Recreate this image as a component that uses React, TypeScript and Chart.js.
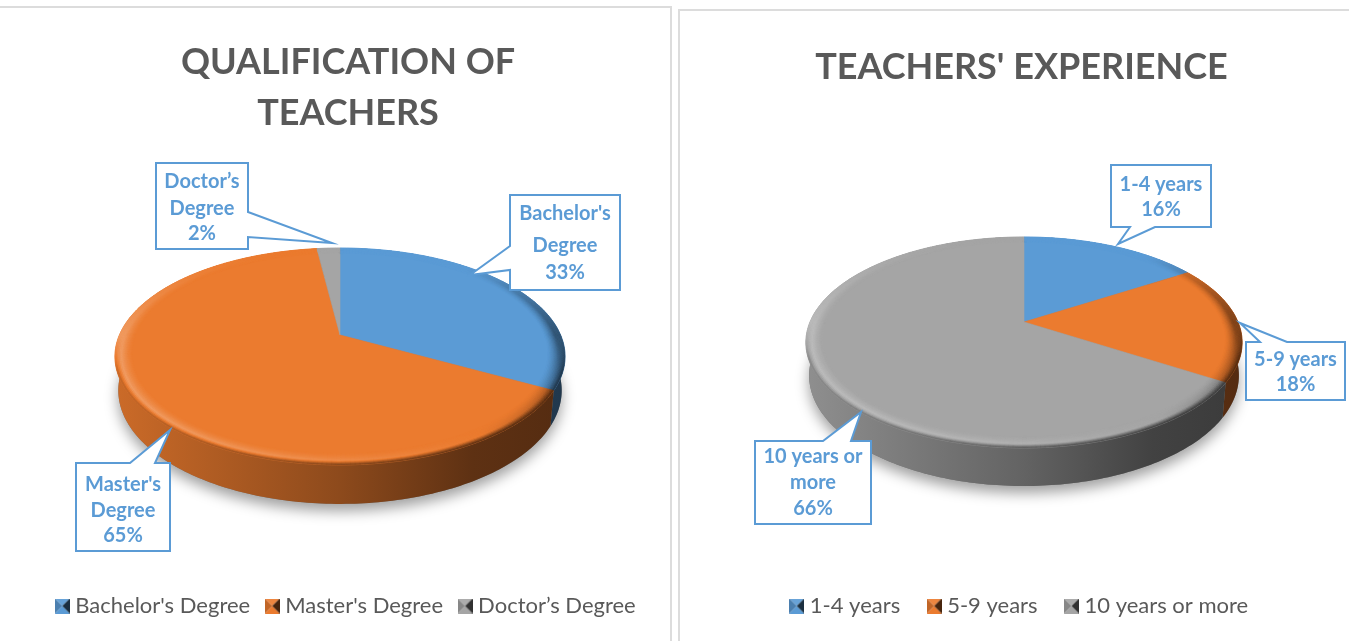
import React, { useEffect, useRef } from "react";
import { Chart, registerables } from "chart.js";

Chart.register(...registerables);

const FONT = "Lato, Carlito, 'Open Sans', sans-serif";
const COLORS = ["#5B9BD5", "#EB7B2F", "#A5A5A5"];

const qualificationLabels = ["Bachelor's Degree", "Master's Degree", "Doctor\u2019s Degree"];
const qualificationValues = [33, 65, 2];
const qualificationTitle = ["QUALIFICATION OF", "TEACHERS"];

const experienceLabels = ["1-4 years", "5-9 years", "10 years or more"];
const experienceValues = [16, 18, 66];
const experienceTitle = ["TEACHERS' EXPERIENCE"];

type Callout = { box: number[]; tip: number[][]; side: string; lines: string[]; ys: number[] };

const qualificationCallouts: Callout[] = [
  { box: [510, 195, 620, 290], side: "left", tip: [[510, 246], [470, 275], [510, 270]], lines: ["Bachelor's", "Degree", "33%"], ys: [213, 245, 272] },
  { box: [76, 463, 170, 551], side: "top", tip: [[130, 463], [170, 430], [155, 463]], lines: ["Master's", "Degree", "65%"], ys: [484, 510, 535] },
  { box: [156, 163, 248, 249], side: "right", tip: [[248, 212], [332, 243], [248, 237]], lines: ["Doctor\u2019s", "Degree", "2%"], ys: [181, 208, 233] },
];
const experienceCallouts: Callout[] = [
  { box: [1111, 165, 1211, 227], side: "bottom", tip: [[1155, 227], [1118, 244], [1130, 227]], lines: ["1-4 years", "16%"], ys: [184, 209] },
  { box: [1246, 342, 1345, 400], side: "top", tip: [[1260, 342], [1240, 323], [1287, 342]], lines: ["5-9 years", "18%"], ys: [359, 384] },
  { box: [755, 441, 871, 524], side: "top", tip: [[823, 441], [861, 412], [851, 441]], lines: ["10 years or", "more", "66%"], ys: [456, 482, 508] },
];

function shade(hex: string, f: number) {
  const n = parseInt(hex.slice(1), 16);
  const c = [(n >> 16) & 255, (n >> 8) & 255, n & 255].map((v) => {
    const r = f <= 1 ? v * f : v + (255 - v) * (f - 1);
    return Math.round(Math.max(0, Math.min(255, r)));
  });
  return `rgb(${c[0]},${c[1]},${c[2]})`;
}

function legendIcon(hex: string) {
  const s = 15;
  const c = document.createElement("canvas");
  c.width = s;
  c.height = s;
  const g = c.getContext("2d")!;
  const m = s / 2;
  const tri = (pts: number[][], col: string) => {
    g.fillStyle = col;
    g.beginPath();
    g.moveTo(pts[0][0], pts[0][1]);
    g.lineTo(pts[1][0], pts[1][1]);
    g.lineTo(pts[2][0], pts[2][1]);
    g.closePath();
    g.fill();
  };
  tri([[0, 0], [s, 0], [m, m]], shade(hex, 1.08));
  tri([[0, s], [s, s], [m, m]], shade(hex, 1.0));
  tri([[0, 0], [0, s], [m, m]], shade(hex, 0.82));
  tri([[s, 0], [s, s], [m, m]], shade(hex, 0.3));
  return c;
}

type Geo = { ax: number; ay: number; A: number; B: number; k: number; dy: number; sx: number; sy: number; ox: number; oy: number; callouts: Callout[] };

const wallStops = [[0, 0.86], [0.5, 0.6], [0.8, 0.4], [1, 0.36]];
function wallFactor(p: number) {
  for (let i = 1; i < wallStops.length; i++) {
    if (p <= wallStops[i][0]) {
      const [a, fa] = wallStops[i - 1];
      const [b, fb] = wallStops[i];
      return fa + ((fb - fa) * (p - a)) / (b - a);
    }
  }
  return 0.36;
}

const pie3d = {
  id: "pie3d",
  beforeDatasetsDraw(chart: any, _args: any, opts: any) {
    const geo: Geo = opts.geo;
    const ctx: CanvasRenderingContext2D = chart.ctx;
    const { ax, ay, A, B, k, dy, sx, sy } = geo;
    const top = (a: number, r = 1) => {
      const u = r * Math.cos(a);
      const v = r * Math.sin(a);
      const w = 1 - k * v;
      return [ax + (A * u) / w, ay + (B * v) / w];
    };
    const low = (a: number) => {
      const u = Math.cos(a);
      const v = Math.sin(a);
      const w = 1 - k * v;
      return [ax + (A * sx * u) / w, ay + dy + (B * sy * v) / w];
    };
    const elements = chart.getDatasetMeta(0).data;
    const bg = chart.data.datasets[0].backgroundColor as string[];
    const step = Math.PI / 180;

    ctx.save();
    ctx.translate(-geo.ox, -geo.oy);

    // soft drop shadow below the disc
    ctx.save();
    ctx.shadowColor = "rgba(0,0,0,0.38)";
    ctx.shadowBlur = 14;
    ctx.shadowOffsetY = 7;
    ctx.fillStyle = "#777";
    ctx.beginPath();
    for (let a = 0; a < Math.PI * 2; a += step) {
      const p = low(a);
      ctx.lineTo(p[0], p[1]);
    }
    ctx.closePath();
    ctx.fill();
    ctx.restore();

    // side wall, one piece per slice
    elements.forEach((el: any, i: number) => {
      const g = ctx.createLinearGradient(ax - A, 0, ax + A, 0);
      wallStops.forEach(([p, f]) => g.addColorStop(p, shade(bg[i], f)));
      ctx.fillStyle = g;
      ctx.beginPath();
      for (let a = el.startAngle; a <= el.endAngle; a += step) {
        const p = top(a);
        ctx.lineTo(p[0], p[1]);
      }
      const e = top(el.endAngle);
      ctx.lineTo(e[0], e[1]);
      const e2 = low(el.endAngle);
      ctx.lineTo(e2[0], e2[1]);
      for (let a = el.endAngle; a >= el.startAngle; a -= step) {
        const p = low(a);
        ctx.lineTo(p[0], p[1]);
      }
      const s2 = low(el.startAngle);
      ctx.lineTo(s2[0], s2[1]);
      ctx.closePath();
      ctx.fill();
    });

    // flat top of each slice
    elements.forEach((el: any, i: number) => {
      ctx.fillStyle = bg[i];
      ctx.strokeStyle = bg[i];
      ctx.lineWidth = 0.6;
      ctx.beginPath();
      ctx.moveTo(ax, ay);
      for (let a = el.startAngle; a <= el.endAngle; a += step) {
        const p = top(a);
        ctx.lineTo(p[0], p[1]);
      }
      const e = top(el.endAngle);
      ctx.lineTo(e[0], e[1]);
      ctx.closePath();
      ctx.fill();
      ctx.stroke();
    });

    // bevelled rim of each slice, melting into the wall at the front
    const rings = 12;
    const width = 0.075;
    elements.forEach((el: any, i: number) => {
      for (let r = 0; r < rings; r++) {
        const t = (r + 1) / rings;
        const r0 = 1 - width * (1 - r / rings);
        const r1 = 1 - width * (1 - (r + 1) / rings);
        for (let a = el.startAngle; a < el.endAngle; a += step) {
          const b = Math.min(a + step, el.endAngle);
          const m = (a + b) / 2;
          const u = Math.cos(m);
          const v = Math.sin(m);
          const fade = Math.max(0, Math.min(1, (v + 0.75) / 0.75));
          let s = -0.72 * u + 0.38 * v + 0.08;
          if (s < 0) s *= fade;
          else s *= 0.4 + 0.6 * fade;
          const amt = Math.pow(Math.min(1, t / 0.7), 1.6);
          let f = s >= 0 ? 1 + 0.3 * s * amt : 1 + 0.72 * s * amt;
          if (t > 0.7 && v > 0) {
            const mix = ((t - 0.7) / 0.3) * Math.min(1, v * 3);
            const wf = wallFactor((u * A + A) / (2 * A));
            f = f + (wf - f) * mix;
          }
          const col = shade(bg[i], f);
          const p0 = top(a, r0);
          const p1 = top(b, r0);
          const p2 = top(b, r1);
          const p3 = top(a, r1);
          ctx.fillStyle = col;
          ctx.strokeStyle = col;
          ctx.lineWidth = 0.5;
          ctx.beginPath();
          ctx.moveTo(p0[0], p0[1]);
          ctx.lineTo(p1[0], p1[1]);
          ctx.lineTo(p2[0], p2[1]);
          ctx.lineTo(p3[0], p3[1]);
          ctx.closePath();
          ctx.fill();
          ctx.stroke();
        }
      }
    });

    // data-label callouts
    geo.callouts.forEach((c) => {
      const [x0, y0, x1, y1] = c.box;
      ctx.beginPath();
      ctx.moveTo(x0, y0);
      if (c.side === "top") c.tip.forEach((p) => ctx.lineTo(p[0], p[1]));
      ctx.lineTo(x1, y0);
      if (c.side === "right") c.tip.forEach((p) => ctx.lineTo(p[0], p[1]));
      ctx.lineTo(x1, y1);
      if (c.side === "bottom") c.tip.forEach((p) => ctx.lineTo(p[0], p[1]));
      ctx.lineTo(x0, y1);
      if (c.side === "left") [...c.tip].reverse().forEach((p) => ctx.lineTo(p[0], p[1]));
      ctx.closePath();
      ctx.fillStyle = "#ffffff";
      ctx.fill();
      ctx.strokeStyle = "#5B9BD5";
      ctx.lineWidth = 2;
      ctx.lineJoin = "miter";
      ctx.stroke();
      ctx.fillStyle = "#5B9BD5";
      ctx.font = `bold 20px ${FONT}`;
      ctx.textAlign = "center";
      ctx.textBaseline = "middle";
      c.lines.forEach((line, j) => ctx.fillText(line, (x0 + x1) / 2, c.ys[j] + 1));
    });

    ctx.restore();
    return false;
  },
};

function makeChart(canvas: HTMLCanvasElement, labels: string[], values: number[], title: string[], titlePad: number, legendPad: number, geo: Geo) {
  return new Chart(canvas, {
    type: "pie",
    data: {
      labels,
      datasets: [{ data: values, backgroundColor: COLORS, borderWidth: 0 }],
    },
    plugins: [pie3d],
    options: {
      responsive: false,
      animation: false,
      layout: { padding: { bottom: 14 } },
      plugins: {
        tooltip: { enabled: false },
        title: {
          display: true,
          text: title,
          color: "#595959",
          font: { family: FONT, size: 36, weight: "bold", lineHeight: 1.44 },
          padding: { top: titlePad, bottom: 0 },
        },
        legend: {
          display: true,
          position: "bottom",
          labels: {
            usePointStyle: true,
            boxWidth: 4,
            padding: legendPad,
            color: "#595959",
            font: { family: FONT, size: 22 },
            generateLabels(chart: any) {
              return chart.data.labels.map((t: string, i: number) => ({
                text: t,
                fontColor: "#595959",
                pointStyle: legendIcon(COLORS[i]),
                index: i,
              }));
            },
          },
        },
        pie3d: { geo },
      } as any,
    },
  } as any);
}

const CANVAS1 = { x: 26, y: 0, w: 644, h: 641 };
const CANVAS2 = { x: 680, y: 0, w: 683, h: 641 };

export default function App() {
  const a = useRef<HTMLCanvasElement>(null);
  const b = useRef<HTMLCanvasElement>(null);
  useEffect(() => {
    const c1 = makeChart(a.current!, qualificationLabels, qualificationValues, qualificationTitle, 36, 20, {
      ax: 340, ay: 335, A: 220.6, B: 104.2, k: 0.198, dy: 33, sx: 0.985, sy: 1.046, ox: CANVAS1.x, oy: CANVAS1.y, callouts: qualificationCallouts,
    });
    const c2 = makeChart(b.current!, experienceLabels, experienceValues, experienceTitle, 41, 32, {
      ax: 1024, ay: 322, A: 214, B: 101.5, k: 0.194, dy: 32, sx: 0.985, sy: 1.048, ox: CANVAS2.x, oy: CANVAS2.y, callouts: experienceCallouts,
    });
    return () => {
      c1.destroy();
      c2.destroy();
    };
  }, []);
  const border = "2.5px solid #dcdcdc";
  const abs = (r: any): React.CSSProperties => ({ position: "absolute", left: r.x, top: r.y });
  return (
    <div style={{ position: "fixed", left: 0, top: 0, width: 1349, height: 641, overflow: "hidden", background: "#fff" }}>
      <div style={{ position: "absolute", left: -2, top: 6, width: 674, height: 660, border, boxSizing: "border-box" }} />
      <div style={{ position: "absolute", left: 678, top: 9, width: 700, height: 660, border, boxSizing: "border-box" }} />
      <canvas ref={a} width={CANVAS1.w} height={CANVAS1.h} style={abs(CANVAS1)} />
      <canvas ref={b} width={CANVAS2.w} height={CANVAS2.h} style={abs(CANVAS2)} />
    </div>
  );
}
